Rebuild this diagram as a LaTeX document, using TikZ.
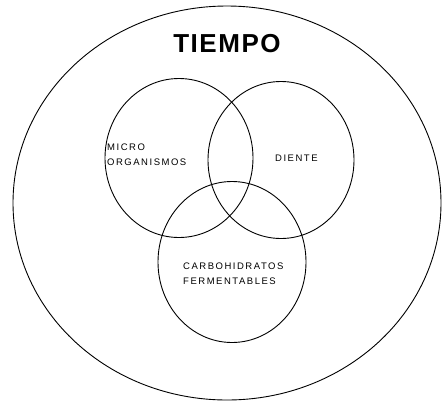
\documentclass[tikz,border=0pt]{standalone}
\usepackage{fontspec}
\setmainfont{Liberation Sans}
\usetikzlibrary{shapes.geometric}
\begin{document}
\begin{tikzpicture}[x=1pt,y=-1pt,
  ring/.style={draw=black,line width=0.9pt,ellipse,inner sep=0pt},
  lab/.style={font=\fontsize{9.5}{15}\selectfont\addfontfeatures{LetterSpace=16},align=left,inner sep=0pt,anchor=west}]
\useasboundingbox (0,0) rectangle (442,408);
\fill[white] (0,0) rectangle (442,408);
\node[ring,minimum width=428pt,minimum height=394pt] (tiempo) at (227,203) {};
\node[ring,minimum width=148pt,minimum height=159pt] (micro) at (179,158) {};
\node[ring,minimum width=146pt,minimum height=157pt] (diente) at (281,160) {};
\node[ring,minimum width=148pt,minimum height=161pt] (carbo) at (232,262) {};
\node[font=\fontsize{26}{30}\selectfont\bfseries\addfontfeatures{LetterSpace=6},inner sep=0pt] (t) at (227,44) {TIEMPO};
\node[lab] (m) at (107,155) {MICRO\\ORGANISMOS};
\node[lab] (d) at (275,158) {DIENTE};
\node[lab] (c) at (183,274) {CARBOHIDRATOS\\FERMENTABLES};
\end{tikzpicture}
\end{document}
